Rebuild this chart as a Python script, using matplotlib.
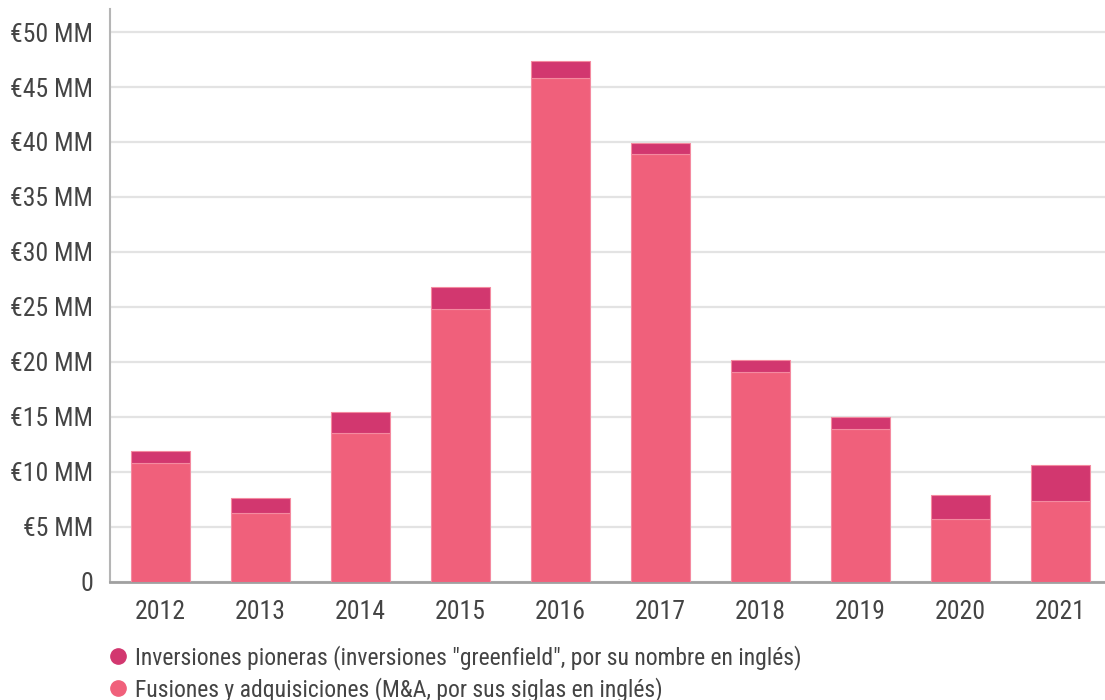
import matplotlib
matplotlib.use("Agg")
import matplotlib.pyplot as plt
from matplotlib.lines import Line2D

years = ["2012", "2013", "2014", "2015", "2016", "2017", "2018", "2019", "2020", "2021"]
# fusiones y adquisiciones (M&A), miles de millones de euros
fusiones = [10.8, 6.2, 13.5, 24.8, 45.8, 38.9, 19.1, 13.9, 5.7, 7.3]
# inversiones pioneras (greenfield)
pioneras = [1.1, 1.4, 1.9, 2.0, 1.6, 1.0, 1.1, 1.1, 2.2, 3.3]
yticks = [0, 5, 10, 15, 20, 25, 30, 35, 40, 45, 50]
ylabels = ["0"] + ["€%d MM" % v for v in yticks[1:]]
legend_labels = [
    'Inversiones pioneras (inversiones "greenfield", por su nombre en inglés)',
    "Fusiones y adquisiciones (M&A, por sus siglas en inglés)",
]

c_dark = "#d2376f"
c_light = "#f0607b"
c_text = "#444444"

plt.rcParams["font.family"] = ["Roboto Condensed", "Liberation Sans Narrow", "Liberation Sans", "DejaVu Sans"]

fig = plt.figure(figsize=(11.05, 7.0), dpi=100)
ax = fig.add_axes([110 / 1105, 1 - 581.6 / 700, 1 - 110 / 1105, (581.6 - 9) / 700])

x = list(range(len(years)))
ax.bar(x, fusiones, width=0.59, color=c_light, edgecolor="#f48aa0", linewidth=0.8, zorder=3)
ax.bar(x, pioneras, bottom=fusiones, width=0.59, color=c_dark, edgecolor="#f48aa0",
       linewidth=0.8, zorder=3)

ax.set_xlim(-0.5, 9.45)
ax.set_ylim(0, 52.1)
ax.set_yticks(yticks)
ax.set_yticklabels(ylabels)
ax.set_xticks(x)
ax.set_xticklabels(years)
ax.tick_params(axis="both", length=0, labelsize=18.5, colors=c_text)
ax.tick_params(axis="y", pad=12)
ax.tick_params(axis="x", pad=13)

ax.grid(axis="y", color="#e3e3e3", linewidth=1.6, zorder=0)
ax.set_axisbelow(True)
for s in ["top", "right"]:
    ax.spines[s].set_visible(False)
ax.spines["left"].set_color("#b5b5b5")
ax.spines["left"].set_linewidth(1.5)
ax.spines["bottom"].set_color("#a0a0a0")
ax.spines["bottom"].set_linewidth(2)

handles = [
    Line2D([], [], marker="o", linestyle="none", markersize=11, color=c_dark),
    Line2D([], [], marker="o", linestyle="none", markersize=11, color=c_light),
]
fig.legend(handles, legend_labels, loc="upper left", bbox_to_anchor=(107 / 1105, 1 - 645 / 700),
           frameon=False, fontsize=17, labelcolor=c_text, handletextpad=0.3,
           labelspacing=0.3, handlelength=0.9, borderaxespad=0, borderpad=0)

fig.savefig("out.png", dpi=100)
